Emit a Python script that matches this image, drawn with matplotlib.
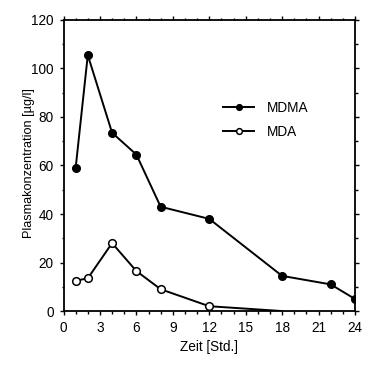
import matplotlib
matplotlib.use("Agg")
import matplotlib.pyplot as plt
from matplotlib.ticker import MultipleLocator

plt.rcParams['font.family'] = ['Liberation Sans', 'DejaVu Sans']

mdma_t = [1, 2, 4, 6, 8, 12, 18, 22, 24]
mdma_c = [59, 105.5, 73.5, 64.5, 43, 38, 14.5, 11, 5]
mda_t = [1, 2, 4, 6, 8, 12, 18]
mda_c = [12.5, 13.5, 28, 16.5, 9, 2, 0]

xticks = [0, 3, 6, 9, 12, 15, 18, 21, 24]
yticks = [0, 20, 40, 60, 80, 100, 120]

fs = 9.8

fig = plt.figure(figsize=(3.78, 3.69), dpi=100)
ax = fig.add_axes([0.168, 0.157, 0.771, 0.789])

ax.plot(mdma_t, mdma_c, color='black', lw=1.4, marker='o', ms=5.5,
        mfc='black', mec='black', label='MDMA', clip_on=True)
ax.plot(mda_t, mda_c, color='black', lw=1.4, marker='o', ms=5.5,
        mfc='white', mec='black', mew=1.1, label='MDA',
        markevery=list(range(len(mda_t) - 1)))

ax.set_xlim(0, 24)
ax.set_ylim(0, 120)
ax.set_xticks(xticks)
ax.set_yticks(yticks)
ax.xaxis.set_minor_locator(MultipleLocator(1))
ax.yaxis.set_minor_locator(MultipleLocator(10))
ax.tick_params(which='both', top=True, right=True, direction='out',
               labelsize=fs, width=1, pad=4)
ax.tick_params(which='major', length=3)
ax.tick_params(which='minor', length=1.8)
for s in ax.spines.values():
    s.set_linewidth(1.3)

ax.set_xlabel('Zeit [Std.]', fontsize=fs, labelpad=4)
ax.set_ylabel('Plasmakonzentration [µg/l]', fontsize=9.1)
ax.yaxis.set_label_coords(-0.097, 0.51)

ax.legend(loc='upper left', bbox_to_anchor=(0.505, 0.765), frameon=False,
          fontsize=fs, handlelength=2.3, handletextpad=0.9, labelspacing=0.75,
          markerscale=0.75)

fig.savefig('out.png', dpi=100)
